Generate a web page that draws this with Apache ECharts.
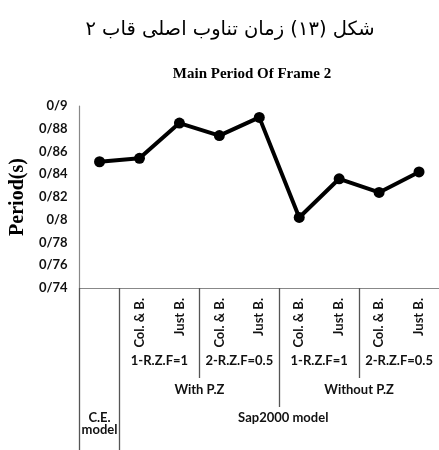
<!DOCTYPE html>
<html lang="fa">
<head>
<meta charset="UTF-8">
<title>Main Period Of Frame 2</title>
<script src="https://cdn.jsdelivr.net/npm/echarts/dist/echarts.min.js"></script>
<style>
  html, body { margin: 0; padding: 0; background: #fff; }
  #chart { width: 439px; height: 450px; }
</style>
</head>
<body>
<div id="chart"></div>
<script>
// data
var categories = ['', 'Col. & B.', 'Just B.', 'Col. & B.', 'Just B.', 'Col. & B.', 'Just B.', 'Col. & B.', 'Just B.'];
var periods = [0.851, 0.854, 0.885, 0.874, 0.890, 0.802, 0.836, 0.824, 0.842];
var yTickLabels = ['0/74', '0/76', '0/78', '0/8', '0/82', '0/84', '0/86', '0/88', '0/9'];

// group rows under the axis (positions in category units)
var rzfLabels = ['1-R.Z.F=1', '2-R.Z.F=0.5', '1-R.Z.F=1', '2-R.Z.F=0.5'];
var rzfPos = [2, 4, 6, 8];
var pzLabels = ['With P.Z', 'Without P.Z'];
var pzPos = [3, 7];
var modelLabels = ['C.E.\nmodel', 'Sap2000 model'];
var modelPos = [0.5, 5.1];

var chart = echarts.init(document.getElementById('chart'));

var sepColor = '#555';
var lblFont = { fontFamily: 'Lato', fontWeight: 'bold', fontSize: 13, color: '#111' };

function groupAxis(ticks, tickLen, pos, labels, margin) {
    return {
        type: 'value', gridIndex: 0, position: 'bottom', offset: 0,
        min: 0, max: 9,
        axisLine: { show: false },
        splitLine: { show: false },
        axisTick: { show: ticks.length > 0, customValues: ticks, length: tickLen,
                    lineStyle: { color: sepColor, width: 1.3 } },
        axisLabel: Object.assign({
            customValues: pos, margin: margin, lineHeight: 12,
            formatter: function (v) {
                var i = pos.indexOf(v);
                return i >= 0 ? labels[i] : '';
            }
        }, lblFont)
    };
}

var option = {
    animation: false,
    graphic: [
        { type: 'text', x: 230, y: 30,
          style: { text: 'شکل (۱۳) زمان تناوب اصلی قاب ۲', fontFamily: 'DejaVu Sans', fontSize: 19.5,
                   fill: '#000', textAlign: 'center', textVerticalAlign: 'middle' } },
        { type: 'text', x: 252, y: 74,
          style: { text: 'Main Period Of Frame 2', fontFamily: 'Liberation Serif', fontWeight: 'bold', fontSize: 15,
                   fill: '#000', textAlign: 'center', textVerticalAlign: 'middle' } }
    ],
    grid: { left: 75, right: -3, top: 106, bottom: 162 },
    xAxis: [
        {
            type: 'category', data: categories, boundaryGap: true,
            axisLine: { lineStyle: { color: '#888', width: 1.2 } },
            axisTick: { show: false },
            axisLabel: Object.assign({ rotate: 90, margin: 10, interval: 0 }, lblFont)
        },
        groupAxis([3, 7], 90, rzfPos, rzfLabels, 67),
        groupAxis([5], 119, pzPos, pzLabels, 96),
        groupAxis([0, 1], 170, modelPos, modelLabels, 124)
    ],
    yAxis: {
        type: 'value', min: 0.74, max: 0.9, interval: 0.02,
        name: 'Period(s)', nameLocation: 'middle', nameGap: 50,
        nameTextStyle: { fontFamily: 'Liberation Serif', fontWeight: 'bold', fontSize: 20, color: '#000' },
        axisLine: { show: true, lineStyle: { color: '#888', width: 1.2 } },
        axisTick: { show: false },
        splitLine: { show: false },
        axisLabel: Object.assign({}, lblFont, {
            margin: 12,
            formatter: function (v) {
                return yTickLabels[Math.round((v - 0.74) / 0.02)];
            }
        })
    },
    series: [{
        type: 'line', data: periods,
        symbol: 'circle', symbolSize: 11,
        lineStyle: { color: '#000', width: 4 },
        itemStyle: { color: '#000' }
    }]
};

chart.setOption(option);
</script>
</body>
</html>
